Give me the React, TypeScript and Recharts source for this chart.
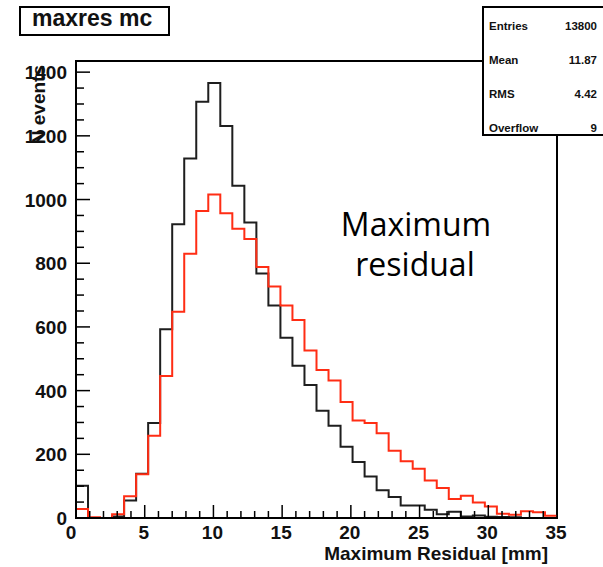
import React from "react";
import { ComposedChart, Line, XAxis, YAxis, ReferenceArea } from "recharts";

// 40 bins from 0 to 35 mm
const binWidth = 35 / 40;
const blackCounts = [101, 0, 0, 5, 55, 139, 298, 593, 922, 1129, 1307, 1366, 1231, 1043, 928, 768, 667, 566, 478, 418,
    337, 290, 224, 176, 130, 87, 66, 39, 39, 26, 12, 20, 5, 8, 4, 3, 2, 0, 0, 0];
const redCounts = [28, 2, 0, 12, 68, 137, 258, 446, 648, 830, 964, 1016, 957, 908, 876, 788, 727, 667, 622, 526,
    465, 432, 364, 306, 298, 266, 211, 178, 155, 118, 94, 60, 70, 49, 36, 13, 10, 21, 18, 7];

const xTicks = Array.from({ length: 36 }, (_, i) => i);
const yTicks = Array.from({ length: 29 }, (_, i) => i * 50);
const statLabels = ["Entries", "Mean", "RMS", "Overflow"];
const statValues = ["13800", "11.87", "4.42", "9"];

const data = Array.from({ length: blackCounts.length + 1 }, (_, i) => ({
    x: i * binWidth,
    black: blackCounts[Math.min(i, blackCounts.length - 1)],
    red: redCounts[Math.min(i, redCounts.length - 1)],
}));

const FONT = "'Liberation Sans', Arial, sans-serif";
const GAP = 8; // tickSize + tickMargin used by recharts

const renderXTick = (props: any) => {
    const { x, payload } = props;
    const y = props.y - GAP;
    const v = payload.value;
    const major = v % 5 === 0;
    return (
        <g key={"xt" + v}>
            <line x1={x} x2={x} y1={y} y2={y - (major ? 13 : 7)} stroke="#000" strokeWidth={1.5} />
            {major && (
                <text x={x - (v === 0 ? 5 : 1)} y={y + 21} textAnchor="middle" fontFamily={FONT} fontWeight="bold" fontSize={19} fill="#111">
                    {v}
                </text>
            )}
        </g>
    );
};

const renderYTick = (props: any) => {
    const { y, payload } = props;
    const x = props.x + GAP;
    const v = payload.value;
    const major = v % 200 === 0;
    return (
        <g key={"yt" + v}>
            <line x1={x} x2={x + (major ? 14 : 8)} y1={y} y2={y} stroke="#000" strokeWidth={1.5} />
            {major && (
                <text x={x - 9} y={y + 7} textAnchor="end" fontFamily={FONT} fontWeight="bold" fontSize={19} fill="#111">
                    {v}
                </text>
            )}
        </g>
    );
};

export default function App() {
    return (
        <div style={{ position: "relative", width: 603, height: 567, background: "#fff" }}>
            <style>{"body{margin:0}"}</style>
            <ComposedChart width={603} height={567} data={data} margin={{ top: 61, right: 46, bottom: 0, left: 0 }}>
                <XAxis type="number" dataKey="x" domain={[0, 35]} ticks={xTicks} interval={0} height={49}
                    tickSize={6} tickMargin={2} tickLine={false} tick={renderXTick} axisLine={{ stroke: "#000", strokeWidth: 2 }} />
                <YAxis type="number" domain={[0, 1435]} ticks={yTicks} interval={0} width={76}
                    tickSize={6} tickMargin={2} tickLine={false} tick={renderYTick} axisLine={{ stroke: "#000", strokeWidth: 2 }} />
                <ReferenceArea x1={0} x2={35} y1={0} y2={1435} fill="none" stroke="#000" strokeWidth={2} ifOverflow="visible" />
                <Line type="stepAfter" dataKey="black" stroke="#1e1e1e" strokeWidth={2} dot={false} isAnimationActive={false} />
                <Line type="stepAfter" dataKey="red" stroke="#ff2d14" strokeWidth={2} dot={false} isAnimationActive={false} />
            </ComposedChart>
            <svg width={603} height={567} style={{ position: "absolute", left: 0, top: 0, pointerEvents: "none" }}>
                <rect x={20} y={7} width={149} height={28} fill="#fff" stroke="#000" strokeWidth={2} />
                <text x={32} y={26} fontFamily={FONT} fontWeight="bold" fontSize={23} fill="#111">maxres mc</text>

                <rect x={483} y={7} width={130} height={128} fill="#fff" stroke="#000" strokeWidth={2} />
                {statLabels.map((s, i) => (
                    <g key={s}>
                        <text x={489} y={30 + i * 34} fontFamily={FONT} fontWeight="bold" fontSize={11.5} fill="#111">{s}</text>
                        <text x={597} y={30 + i * 34} textAnchor="end" fontFamily={FONT} fontWeight="bold" fontSize={11.5} fill="#111">{statValues[i]}</text>
                    </g>
                ))}

                <text x={45} y={65} transform="rotate(-90, 45, 65)" textAnchor="end" fontFamily={FONT} fontWeight="bold" fontSize={19} fill="#111">N events</text>
                <text x={548} y={560} textAnchor="end" fontFamily={FONT} fontWeight="bold" fontSize={19} fill="#111">Maximum Residual [mm]</text>

                <text x={416} y={236} textAnchor="middle" fontFamily="'Open Sans', sans-serif" fontSize={32} fill="#000">Maximum</text>
                <text x={415} y={276} textAnchor="middle" fontFamily="'Open Sans', sans-serif" fontSize={32} fill="#000">residual</text>
            </svg>
        </div>
    );
}
